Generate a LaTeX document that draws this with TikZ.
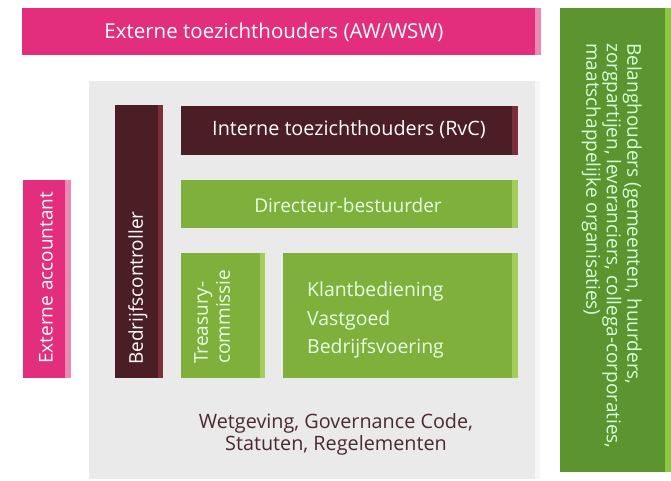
\documentclass[tikz,border=0pt]{standalone}
\usepackage{fontspec}
\setmainfont{Open Sans}
\definecolor{roze}{HTML}{E22E7C}
\definecolor{rozerand}{HTML}{EE8AB2}
\definecolor{bordeaux}{HTML}{4B1D24}
\definecolor{bordeauxrand}{HTML}{7A2E38}
\definecolor{groen}{HTML}{80B03C}
\definecolor{groenrand}{HTML}{A4CC58}
\definecolor{donkergroen}{HTML}{5C9530}
\definecolor{donkergroenrand}{HTML}{8DC63F}
\definecolor{grijs}{HTML}{EBEAEA}
\definecolor{tekst}{HTML}{4A2A30}

\begin{document}
\begin{tikzpicture}[x=1pt,y=-1pt]
			\tikzset{lbl/.style = {text=white, font=\fontsize{19}{22}\selectfont, inner sep=0pt}}
			\tikzset{lblgroen/.style = {lbl, text=green!10!white}}

			\useasboundingbox (0,0) rectangle (671,480);

			% achtergrond
			\fill[grijs] (89,81) rectangle (540,479);
			\fill[white!60!grijs] (535,81) rectangle (540,479);

			% extern
			\fill[roze] (22,8) rectangle (541,55);
			\fill[rozerand] (535,8) rectangle (541,55);
			\node[lbl, font=\fontsize{20.5}{22}\selectfont] (aw) at (274,32) {Externe toezichthouders (AW/WSW)};

			\fill[roze] (23,180) rectangle (71,378);
			\fill[rozerand] (65,180) rectangle (71,378);
			\node[lbl, rotate=90, anchor=west] (acc) at (46,364) {Externe accountant};

			\fill[donkergroen] (560,8) rectangle (671,472);
			\fill[donkergroenrand] (665,8) rectangle (671,472);
			\node[lblgroen, rotate=-90, anchor=north west, align=left, text=green!15!white,
				font=\fontsize{19}{20.5}\selectfont] (bel) at (642,43)
				{Belanghouders (gemeenten, huurders,\\zorgpartijen, leveranciers, collega-corporaties,\\maatschappelijke organisaties)};

			% intern
			\fill[bordeaux] (115,105) rectangle (163,378);
			\fill[bordeauxrand] (158,105) rectangle (163,378);
			\node[lbl, rotate=90, anchor=west] (bc) at (138,365) {Bedrijfscontroller};

			\fill[bordeaux] (181,106) rectangle (518,155);
			\fill[bordeauxrand] (512,106) rectangle (518,155);
			\node[lbl, font=\fontsize{19.8}{22}\selectfont] (rvc) at (349,130) {Interne toezichthouders (RvC)};

			\fill[groen] (181,180) rectangle (518,228);
			\fill[groenrand] (512,180) rectangle (518,228);
			\node[lblgroen] (dir) at (348,205) {Directeur-bestuurder};

			\fill[groen] (181,253) rectangle (265,378);
			\fill[groenrand] (260,253) rectangle (265,378);
			\node[lblgroen, rotate=90, anchor=north west, align=left] (tc) at (194,364) {Treasury-\\commissie};

			\fill[groen] (283,253) rectangle (518,378);
			\fill[groenrand] (512,253) rectangle (518,378);
			\node[lblgroen, anchor=north west, align=left,
				font=\fontsize{19.4}{28.5}\selectfont] (klant) at (307,282)
				{Klantbediening\\Vastgoed\\Bedrijfsvoering};

			\node[text=tekst, font=\fontsize{19.8}{22}\selectfont, align=center] (wet) at (336,434)
				{Wetgeving, Governance Code,\\Statuten, Regelementen};
		\end{tikzpicture}
\end{document}
